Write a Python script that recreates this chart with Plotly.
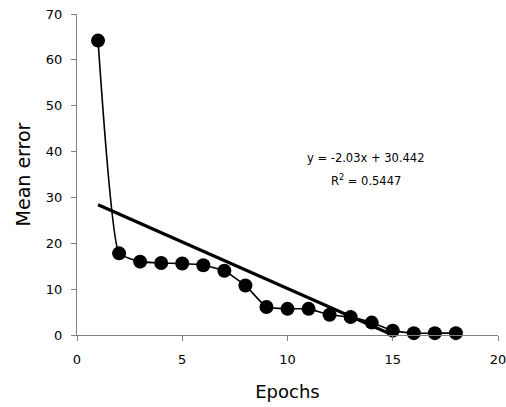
import plotly.graph_objects as go

epochs = list(range(1, 19))
mean_error = [64.2, 17.8, 16.0, 15.7, 15.6, 15.2, 14.0, 10.8, 6.1, 5.7, 5.7, 4.4, 3.9, 2.7, 0.95, 0.4, 0.4, 0.4]
slope = -2.03
intercept = 30.442
r_squared = 0.5447

trend_x = [epochs[0], epochs[-1]]
trend_y = [slope * x + intercept for x in trend_x]

FONT = "DejaVu Sans, Arial, sans-serif"

fig = go.Figure()
fig.add_trace(go.Scatter(
    x=trend_x, y=trend_y, mode="lines",
    line=dict(color="black", width=3.2),
    hoverinfo="skip", showlegend=False,
))
fig.add_trace(go.Scatter(
    x=epochs, y=mean_error, mode="lines+markers",
    line=dict(color="black", width=1.6, shape="spline", smoothing=0.4),
    marker=dict(color="black", size=14),
    cliponaxis=False, showlegend=False,
))

fig.add_annotation(
    x=13.75, y=38.7, xref="x", yref="y",
    text="y = -2.03x + 30.442", showarrow=False,
    font=dict(family=FONT, size=11.5, color="black"),
)
fig.add_annotation(
    x=13.75, y=33.7, xref="x", yref="y",
    text="R<sup>2</sup> = 0.5447", showarrow=False,
    font=dict(family=FONT, size=11.5, color="black"),
)

fig.update_layout(
    width=506, height=407,
    margin=dict(l=77, r=8, t=14, b=72, autoexpand=False),
    paper_bgcolor="white", plot_bgcolor="white",
    font=dict(family=FONT, size=13, color="black"),
    xaxis=dict(
        range=[0, 20], tickvals=[0, 5, 10, 15, 20],
        showgrid=False, zeroline=False, automargin=False,
        showline=True, linecolor="#808080", linewidth=1,
        ticks="outside", ticklen=5, tickcolor="#808080",
        ticklabelstandoff=7, ticklabeloverflow="allow",
        title=dict(text="Epochs", font=dict(family=FONT, size=18), standoff=19),
    ),
    yaxis=dict(
        range=[0, 70], tickvals=[0, 10, 20, 30, 40, 50, 60, 70],
        showgrid=False, zeroline=False, automargin=False,
        showline=True, linecolor="#808080", linewidth=1,
        ticks="outside", ticklen=5, tickcolor="#808080",
        ticklabelstandoff=6, ticklabeloverflow="allow",
        title=dict(text="Mean error", font=dict(family=FONT, size=19), standoff=10),
    ),
)

fig.write_html("out.html", config={"displayModeBar": False},
               post_script="document.body.style.margin='0';")
